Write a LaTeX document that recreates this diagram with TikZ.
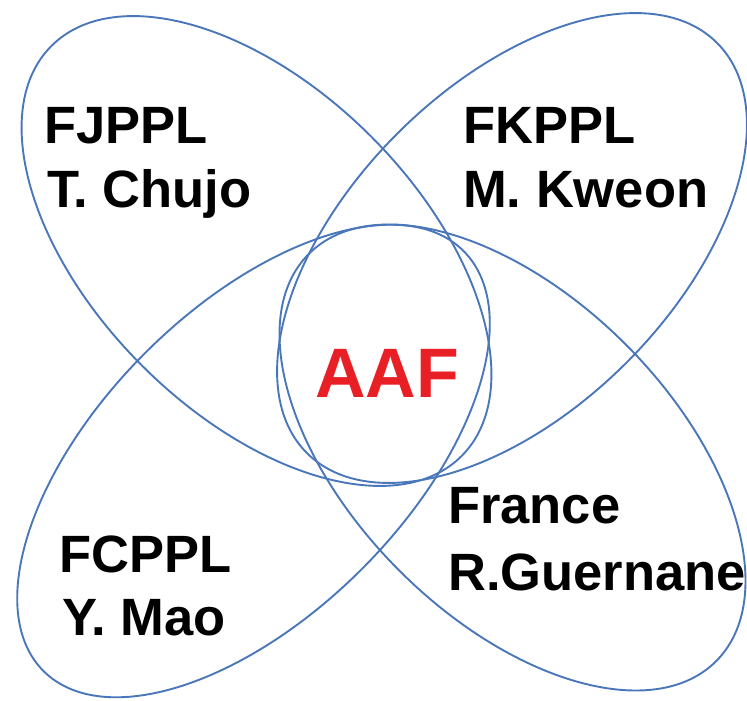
\documentclass[tikz,border=0pt]{standalone}
\usepackage{fontspec}
\setmainfont{Liberation Sans}
\definecolor{venn}{RGB}{74,118,186}
\definecolor{aafred}{RGB}{232,32,37}
\begin{document}
\begin{tikzpicture}[x=1pt,y=-1pt,
  petal/.style={draw=venn, line width=1.9pt},
  lbl/.style={anchor=base west, inner sep=0pt, font=\fontsize{52.5}{52.5}\selectfont\bfseries},
  core/.style={anchor=base west, inner sep=0pt, text=aafred, font=\fontsize{70}{70}\selectfont\bfseries}]
\useasboundingbox (0,0) rectangle (747,701);
\clip (0,0) rectangle (747,701);
% four petals
\draw[petal, rotate around={-45:(256.5,251)}] (256.5,251) ellipse [x radius=290, y radius=162];
\draw[petal, rotate around={45:(512,248)}] (512,248) ellipse [x radius=290, y radius=162];
\draw[petal, rotate around={45:(253.5,461)}] (253.5,461) ellipse [x radius=297, y radius=153];
\draw[petal, rotate around={-45:(512.5,457.5)}] (512.5,457.5) ellipse [x radius=288, y radius=160];
% labels
\node[lbl] (fj) at (44,143) {FJPPL};
\node[lbl] (fjn) at (47,207) {T. Chujo};
\node[lbl] (fk) at (463,143) {FKPPL};
\node[lbl] (fkn) at (463,207) {M. Kweon};
\node[lbl] (fc) at (59,572) {FCPPL};
\node[lbl] (fcn) at (62,635) {Y. Mao};
\node[lbl] (fr) at (448,523) {France};
\node[lbl] (frn) at (448,590) {R.Guernane};
\node[core] (aaf) at (315,397) {AAF};
\end{tikzpicture}
\end{document}
